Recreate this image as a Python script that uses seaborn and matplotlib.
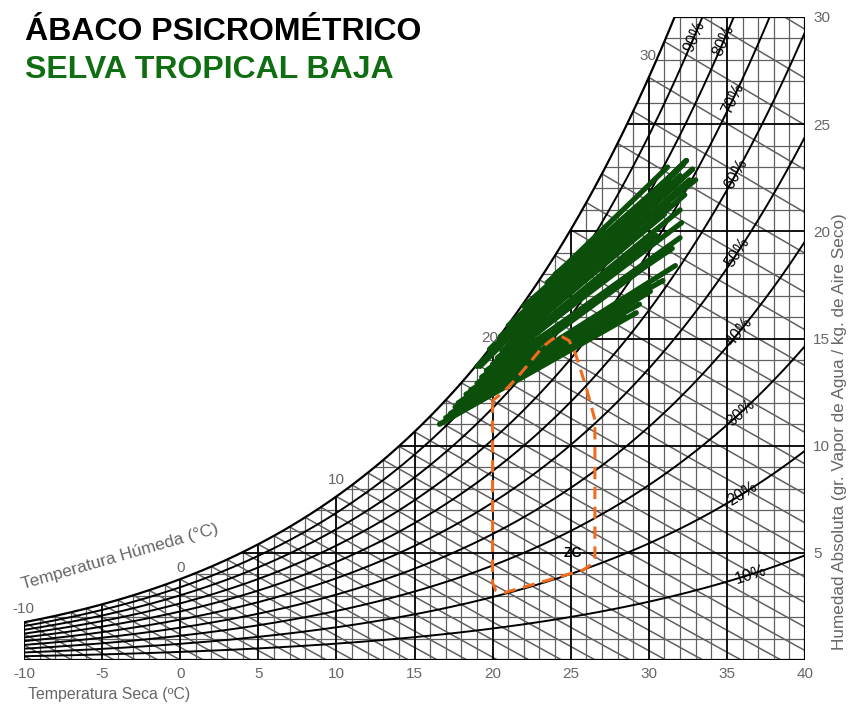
import numpy as np
import pandas as pd
import matplotlib
matplotlib.use("Agg")
import matplotlib.pyplot as plt
import seaborn as sns
from matplotlib.patches import Polygon

# Datos: líneas mensuales (T seca mín / W, T seca máx / W) en g/kg
t_ini = [16.6, 17.0, 17.3, 17.6, 18.0, 18.3, 18.6, 19.0, 19.3, 19.6, 20.0, 20.3,
         20.6, 21.0, 21.4, 21.8, 22.2, 22.6, 23.0, 18.5, 19.5, 20.0, 20.5, 21.2,
         17.8, 21.6, 22.4, 23.5, 24.0, 19.8, 20.5, 19.2, 23.5, 19.0, 20.5, 22.0,
         21.0]
w_ini = [11.0, 11.3, 11.5, 11.8, 12.1, 12.4, 12.6, 12.9, 13.2, 13.5, 13.8, 14.1,
         14.4, 14.7, 15.1, 15.5, 15.9, 16.3, 17.0, 11.9, 12.6, 13.1, 13.6, 14.3,
         12.0, 15.3, 16.0, 17.6, 18.0, 14.5, 15.0, 13.7, 17.6, 13.7, 15.1, 16.5,
         15.6]
t_fin = [29.2, 26.0, 30.1, 29.4, 31.7, 27.5, 30.9, 32.0, 31.5, 32.1, 32.0, 30.5,
         32.3, 31.0, 32.6, 32.8, 32.4, 31.8, 31.0, 28.5, 30.0, 29.5, 31.0, 30.2,
         27.0, 31.4, 32.0, 30.5, 31.5, 32.4, 32.8, 31.0, 31.2, 32.4, 33.0, 32.2,
         31.8]
w_fin = [16.2, 15.0, 17.2, 16.6, 18.4, 15.8, 17.7, 19.7, 19.2, 20.4, 21.0, 19.8,
         21.7, 20.8, 22.4, 22.9, 23.3, 22.2, 21.8, 16.0, 17.5, 18.2, 19.0, 19.5,
         15.6, 21.2, 22.6, 21.4, 22.3, 23.3, 22.9, 22.3, 23.0, 23.3, 22.4, 23.1,
         22.8]

# Zona de confort (ZC)
zc_t = [20.0, 20.0, 20.2, 20.8, 25.8, 26.4, 26.55, 26.55, 26.0, 25.3, 24.9, 24.4,
        24.1, 23.7, 23.2, 22.4, 21.6, 20.7, 20.0]
zc_w = [12.1, 3.6, 3.25, 3.15, 4.2, 4.5, 4.8, 11.2, 12.7, 14.3, 14.9, 15.1,
        15.1, 14.9, 14.6, 13.9, 13.2, 12.5, 12.1]

hr_niveles = [0.1, 0.2, 0.3, 0.4, 0.5, 0.6, 0.7, 0.8, 0.9]
hr_etiq_t = [36.5, 36.0, 35.9, 35.8, 35.7, 35.6, 35.4, 34.8, 32.9]
tbh_etiquetas = ["30", "20", "10", "0", "-10"]
tbh_etiq_t = [29.95, 19.8, 10.0, 0.05, -10.05]
tbh_etiq_w = [28.2, 15.0, 8.4, 4.3, 2.4]

P = 101.325


def pws(t):
    return 0.61078 * np.exp(17.27 * t / (t + 237.3))


def w_sat(t):
    p = pws(t)
    return 622 * p / (P - p)


def w_bh(t, twb):
    ws = w_sat(twb) / 1000
    return 1000 * ((2501 - 2.326 * twb) * ws - 1.006 * (t - twb)) / (2501 + 1.86 * t - 4.186 * twb)


sns.set_theme(style="white")
plt.rcParams["font.family"] = ["Liberation Sans", "DejaVu Sans"]
plt.rcParams["axes.unicode_minus"] = False

fig = plt.figure(figsize=(8.5, 7.06), dpi=100)
ax = fig.add_axes([24 / 850, 46 / 706, 781 / 850, 643 / 706])

# Región del ábaco (bajo la curva de saturación)
tf = np.linspace(-10, 40, 2000)
t30 = np.interp(30, w_sat(tf), tf)
ts = np.linspace(-10, t30, 400)
verts = [(-10, 0)] + list(zip(ts, w_sat(ts))) + [(40, 30), (40, 0)]
clip = Polygon(verts, closed=True, transform=ax.transData, facecolor="none", edgecolor="none")
ax.add_patch(clip)


def linea(x, y, **kw):
    ln, = ax.plot(x, y, **kw)
    ln.set_clip_path(clip)
    return ln


gris = "#606060"
# Verticales
for t in range(-10, 41):
    if t % 5 == 0:
        linea([t, t], [0, 30], color="black", lw=1.3, zorder=2)
    else:
        linea([t, t], [0, 30], color=gris, lw=0.9, zorder=1)
# Horizontales
for w in range(0, 31):
    if w % 5 == 0:
        linea([-10, 40], [w, w], color="black", lw=1.3, zorder=2)
    else:
        linea([-10, 40], [w, w], color=gris, lw=0.9, zorder=1)
# Bulbo húmedo
for twb in range(-25, 41):
    tt = np.linspace(max(twb, -10), 40, 200)
    linea(tt, w_bh(tt, twb), color=gris, lw=1.1, zorder=1)
# Humedad relativa
for rh in hr_niveles:
    linea(tf, rh * w_sat(tf), color="black", lw=1.4, zorder=2)

# Borde
bx, by = zip(*verts)
ax.plot(list(bx) + [bx[0]], list(by) + [by[0]], color="black", lw=1.6, zorder=3)

# Etiquetas HR
esc = (643 / 30) / (781 / 50)
for rh, t in zip(hr_niveles, hr_etiq_t):
    w = rh * w_sat(t)
    d = (rh * w_sat(t + 0.05) - rh * w_sat(t - 0.05)) / 0.1
    ang = np.degrees(np.arctan(d * esc))
    ax.text(t, w, f"{int(rh * 100)}%", rotation=ang, rotation_mode="anchor",
            ha="center", va="center", fontsize=11.5, color="black", zorder=6)

for s, t, w in zip(tbh_etiquetas, tbh_etiq_t, tbh_etiq_w):
    ax.text(t, w, s, ha="center", va="center", fontsize=11, color="#666666", zorder=6)
ax.text(-3.85, 4.8, "Temperatura Húmeda (°C)", rotation=16, ha="center", va="center",
        fontsize=12.5, color="#666666", zorder=6)

# Líneas mensuales
filas = []
for i in range(len(t_ini)):
    filas.append([i, t_ini[i], w_ini[i]])
    filas.append([i, t_fin[i], w_fin[i]])
df = pd.DataFrame(filas, columns=["linea", "t", "w"])
sns.lineplot(data=df, x="t", y="w", units="linea", estimator=None, sort=False,
             color="#0b4f0b", linewidth=3.8, solid_capstyle="round", ax=ax,
             legend=False, zorder=4)

# Zona de confort
ax.plot(zc_t, zc_w, color="#f26b1d", lw=2.2, ls=(0, (4, 2.5)), zorder=5)
ax.text(25.15, 5.0, "ZC", fontsize=10, fontweight="bold", color="black",
        ha="center", va="center", zorder=6)

ax.set_xlim(-10, 40)
ax.set_ylim(0, 30)
ax.set_xlabel("")
ax.set_ylabel("")
for sp in ax.spines.values():
    sp.set_visible(False)
ax.set_xticks(range(-10, 41, 5))
ax.yaxis.tick_right()
ax.set_yticks([5, 10, 15, 20, 25, 30])
ax.tick_params(length=0, colors="#666666", labelsize=11)
ax.tick_params(axis="x", pad=5)
ax.tick_params(axis="y", pad=6)

fig.text(0.988, 0.388, "Humedad Absoluta (gr. Vapor de Agua / kg. de Aire Seco)",
         rotation=90, ha="center", va="center", fontsize=12.3, color="#666666")
fig.text(28 / 850, 1 - 695 / 706, "Temperatura Seca (ºC)", ha="left", va="center",
         fontsize=11.4, color="#666666")
fig.text(25 / 850, 1 - 40 / 706, "ÁBACO PSICROMÉTRICO", ha="left", va="baseline",
         fontsize=23, fontweight="bold", color="black")
fig.text(25 / 850, 1 - 78 / 706, "SELVA TROPICAL BAJA", ha="left", va="baseline",
         fontsize=23, fontweight="bold", color="#0f6e12")

fig.savefig("out.png", dpi=100)
